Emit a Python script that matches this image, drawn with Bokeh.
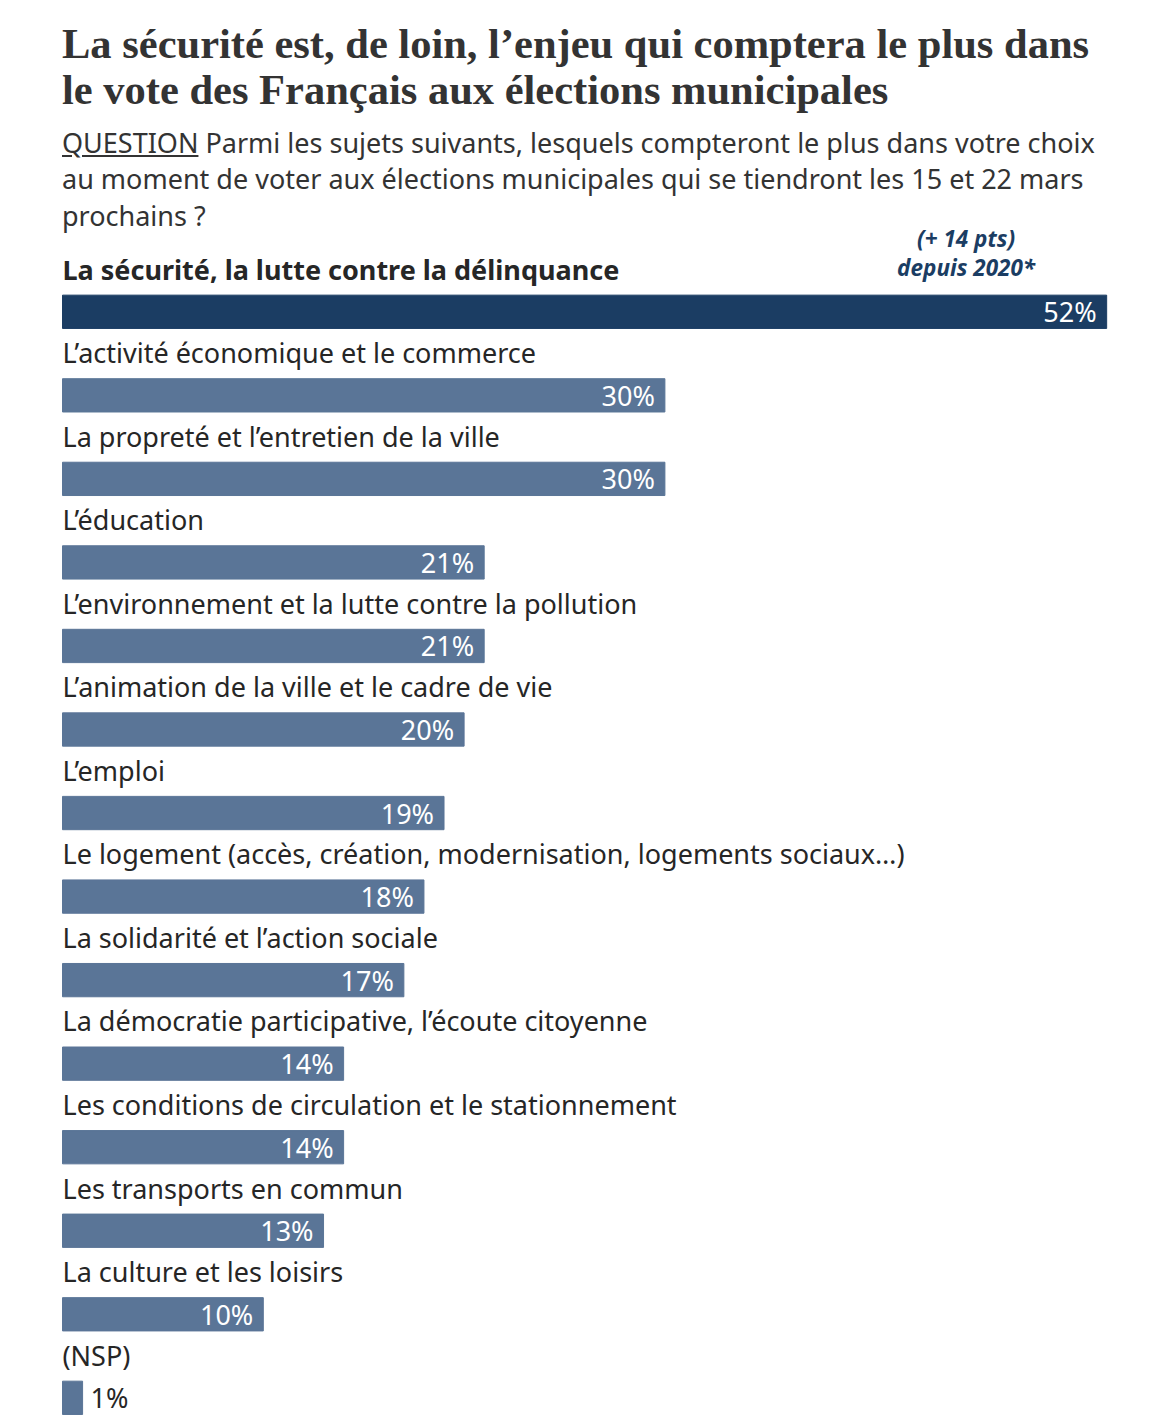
from bokeh.plotting import figure
from bokeh.models import Div, Range1d, ColumnDataSource
from bokeh.layouts import column
from bokeh.core.properties import value
from bokeh.embed import file_html
from bokeh.resources import INLINE

title_lines = ["La sécurité est, de loin, l’enjeu qui comptera le plus dans",
               "le vote des Français aux élections municipales"]
subtitle_lines = ["Parmi les sujets suivants, lesquels compteront le plus dans votre choix",
                  "au moment de voter aux élections municipales qui se tiendront les 15 et 22 mars",
                  "prochains ?"]
categories = [
    "La sécurité, la lutte contre la délinquance",
    "L’activité économique et le commerce",
    "La propreté et l’entretien de la ville",
    "L’éducation",
    "L’environnement et la lutte contre la pollution",
    "L’animation de la ville et le cadre de vie",
    "L’emploi",
    "Le logement (accès, création, modernisation, logements sociaux…)",
    "La solidarité et l’action sociale",
    "La démocratie participative, l’écoute citoyenne",
    "Les conditions de circulation et le stationnement",
    "Les transports en commun",
    "La culture et les loisirs",
    "(NSP)",
]
values = [52, 30, 30, 21, 21, 20, 19, 18, 17, 14, 14, 13, 10, 1]
note_lines = ["(+ 14 pts)", "depuis 2020*"]

DARK = "#1b3d63"
LIGHT = "#5a7597"
TXT = "#262626"
SANS = "Noto Sans"
FS = "27px"

header = Div(
    text=(
        '<div style="padding-left:62px;font-family:\'Liberation Serif\';font-weight:bold;'
        'font-size:42.5px;line-height:46.5px;color:#333;margin-top:20.5px;white-space:nowrap">'
        + "<br>".join(title_lines) + "</div>"
        + f'<div style="padding-left:62px;font-family:\'{SANS}\';font-size:{FS};line-height:36.5px;'
        'color:#333;margin-top:11px;white-space:nowrap">'
        '<span style="text-decoration:underline">QUESTION</span> '
        + "<br>".join(subtitle_lines) + "</div>"
    ),
    width=1146, height=212, styles={"margin": "0", "padding": "0", "overflow": "visible"},
)

W, H = 1146, 1206
px_per_pct = 20.08
x0 = 62
row = 83.54
first_center = 99.3

n = len(categories)
ys = list(range(n))
colors = [DARK] + [LIGHT] * (n - 1)

p = figure(width=W, height=H, output_backend="svg", toolbar_location=None,
           x_range=Range1d(-x0 / px_per_pct, (W - x0) / px_per_pct),
           y_range=Range1d((H - first_center) / row, -first_center / row),
           min_border=0, x_axis_location=None, y_axis_location=None,
           outline_line_color=None, background_fill_color=None,
           border_fill_color=None)
p.xgrid.visible = False
p.ygrid.visible = False

src = ColumnDataSource(dict(y=ys, v=values, c=colors))
p.hbar(y="y", left=0, right="v", height=33.3 / row, color="c", source=src)

# category labels
cat_src = ColumnDataSource(dict(y=ys[1:], cat=categories[1:], x=[0] * (n - 1)))
p.text(x="x", y="y", text="cat", source=cat_src, y_offset=-42.7,
       text_font=value(SANS), text_font_size=FS, text_color=TXT,
       text_baseline="alphabetic", text_align="left")
p.text(x=[0], y=[ys[0]], text=[categories[0]], y_offset=-42.7,
       text_font=value(SANS), text_font_size=FS, text_font_style="bold",
       text_color=TXT, text_baseline="alphabetic", text_align="left")

# value labels
inside = [i for i in range(n) if values[i] >= 5]
outside = [i for i in range(n) if values[i] < 5]
in_src = ColumnDataSource(dict(x=[values[i] for i in inside], y=[ys[i] for i in inside],
                               t=[f"{values[i]}%" for i in inside]))
p.text(x="x", y="y", text="t", source=in_src, x_offset=-10, y_offset=0,
       text_font=value(SANS), text_font_size=FS, text_color="white",
       text_baseline="alphabetic", text_align="right")
out_src = ColumnDataSource(dict(x=[values[i] for i in outside], y=[ys[i] for i in outside],
                                t=[f"{values[i]}%" for i in outside]))
p.text(x="x", y="y", text="t", source=out_src, x_offset=8, y_offset=0,
       text_font=value(SANS), text_font_size=FS, text_color=TXT,
       text_baseline="alphabetic", text_align="left")

# note above first bar
p.text(x=[45, 45], y=[0, 0], text=note_lines, y_offset=[-73, -44],
       text_font=value(SANS), text_font_size="22.5px", text_font_style="bold italic",
       text_color=DARK, text_baseline="alphabetic", text_align="center")

layout = column(header, p, spacing=0)
open("out.html", "w").write(file_html(layout, INLINE))
